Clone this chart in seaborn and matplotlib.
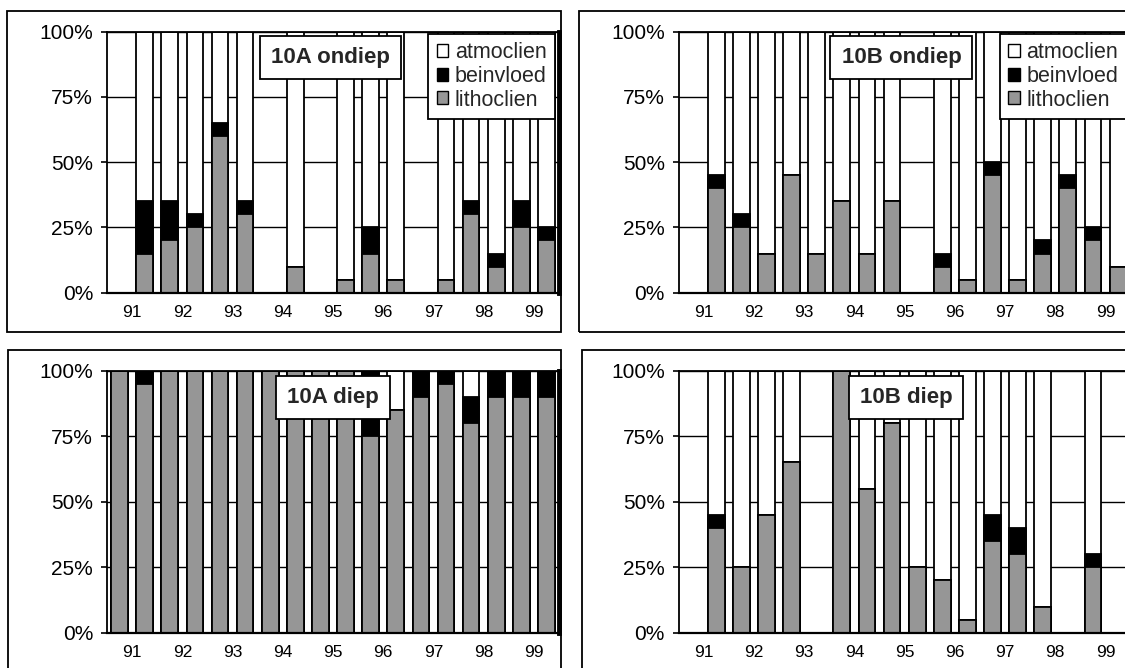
import numpy as np
import pandas as pd
import matplotlib
matplotlib.use("Agg")
import matplotlib.pyplot as plt
import seaborn as sns
from matplotlib.patches import Patch, Rectangle

# ---------------- data ----------------
years = ["91", "92", "93", "94", "95", "96", "97", "98", "99"]
slots = [f"{y}{h}" for y in years for h in ("a", "b")]   # two samples per year
series_names = ["atmoclien", "beinvloed", "lithoclien"]
series_colors = ["#ffffff", "#000000", "#969696"]

a_ondiep_litho = [0, 15, 20, 25, 60, 30, 0, 10, 0, 5, 15, 5, 0, 5, 30, 10, 25, 20]
a_ondiep_bein  = [0, 20, 15, 5, 5, 5, 0, 0, 0, 0, 10, 0, 0, 0, 5, 5, 10, 5]
a_ondiep_atmo  = [0, 65, 65, 70, 35, 65, 0, 90, 0, 95, 75, 95, 0, 95, 65, 85, 65, 75]

b_ondiep_litho = [0, 40, 25, 15, 45, 15, 35, 15, 35, 0, 10, 5, 45, 5, 15, 40, 20, 10]
b_ondiep_bein  = [0, 5, 5, 0, 0, 0, 0, 0, 0, 0, 5, 0, 5, 0, 5, 5, 5, 0]
b_ondiep_atmo  = [0, 55, 70, 85, 55, 85, 65, 85, 65, 0, 85, 95, 50, 95, 80, 55, 75, 90]

a_diep_litho = [100, 95, 100, 100, 100, 100, 100, 100, 100, 100, 75, 85, 90, 95, 80, 90, 90, 90]
a_diep_bein  = [0, 5, 0, 0, 0, 0, 0, 0, 0, 0, 25, 0, 10, 5, 10, 10, 10, 10]
a_diep_atmo  = [0, 0, 0, 0, 0, 0, 0, 0, 0, 0, 0, 15, 0, 0, 10, 0, 0, 0]

b_diep_litho = [0, 40, 25, 45, 65, 0, 100, 55, 80, 25, 20, 5, 35, 30, 10, 0, 25, 0]
b_diep_bein  = [0, 5, 0, 0, 0, 0, 0, 0, 0, 0, 0, 0, 10, 10, 0, 0, 5, 0]
b_diep_atmo  = [0, 55, 75, 55, 35, 0, 0, 45, 20, 75, 80, 95, 55, 60, 90, 0, 70, 0]

panel_titles = ["10A ondiep", "10B ondiep", "10A diep", "10B diep"]
y_ticks = [0, 25, 50, 75, 100]
y_ticklabels = ["0%", "25%", "50%", "75%", "100%"]

# ---------------- style ----------------
sns.set_theme(style="white")
plt.rcParams["font.family"] = ["Liberation Sans", "DejaVu Sans"]

W, H = 1125, 668
fig = plt.figure(figsize=(W / 100, H / 100), dpi=100)

def fx(px):
    return px / W

def fy(py):
    return 1 - py / H

# axes rectangles (pixel geometry: left, top(100%), right, bottom(0%))
ax_geom = [
    (107, 31.7, 559, 292.7),
    (678.6, 31.7, 1130.6, 292.7),
    (107, 370.7, 559, 632.7),
    (678.6, 370.7, 1130.6, 632.7),
]
# outer frames (pixel geometry: x0, y0, x1, y1)
frames = [
    (7, 11, 561, 332),
    (579, 11, 1200, 332),
    (8, 350, 561, 720),
    (582, 350, 1200, 720),
]

panels = [
    (a_ondiep_litho, a_ondiep_bein, a_ondiep_atmo),
    (b_ondiep_litho, b_ondiep_bein, b_ondiep_atmo),
    (a_diep_litho, a_diep_bein, a_diep_atmo),
    (b_diep_litho, b_diep_bein, b_diep_atmo),
]
show_legend = [True, True, False, False]
title_pos = [(0.494, 0.901), (0.493, 0.901), (0.50, 0.898), (0.503, 0.898)]

for (x0, y0, x1, y1) in frames:
    fig.add_artist(Rectangle((fx(x0), fy(y1)), fx(x1 - x0), (y1 - y0) / H,
                             transform=fig.transFigure, fill=False,
                             edgecolor="black", linewidth=1.3, zorder=0))

for i, ((l, t, r, b), (litho, bein, atmo)) in enumerate(zip(ax_geom, panels)):
    ax = fig.add_axes([fx(l), fy(b), fx(r - l), (b - t) / H])
    df = pd.DataFrame({"slot": slots, "litho": litho, "bein": bein, "atmo": atmo})
    df["mid"] = df["litho"] + df["bein"]
    df["total"] = df["mid"] + df["atmo"]
    for col, colr in [("total", series_colors[0]), ("mid", series_colors[1]),
                      ("litho", series_colors[2])]:
        sns.barplot(data=df, x="slot", y=col, order=slots, color=colr,
                    saturation=1, edgecolor="black", linewidth=1.3, width=0.667,
                    errorbar=None, ax=ax)
    ax.set_xlim(-0.5, 17.5)
    ax.set_ylim(0, 100)
    ax.set_yticks(y_ticks)
    ax.set_yticklabels(y_ticklabels, fontsize=15)
    ax.set_xticks(np.arange(0.5, 18, 2))
    ax.set_xticklabels(years, fontsize=12.5)
    ax.set_xlabel("")
    ax.set_ylabel("")
    ax.tick_params(axis="y", length=4, width=1.2, pad=6, colors="black", left=True)
    ax.tick_params(axis="x", length=0, pad=9, colors="black")
    ax.yaxis.grid(True, color="black", linewidth=1.0)
    ax.xaxis.grid(False)
    ax.set_axisbelow(True)
    for s in ["left", "bottom", "top"]:
        ax.spines[s].set_visible(True)
        ax.spines[s].set_color("black")
    ax.spines["left"].set_linewidth(1.3)
    ax.spines["bottom"].set_linewidth(1.6)
    ax.spines["top"].set_linewidth(1.3)
    ax.spines["right"].set_color("black")
    ax.spines["right"].set_linewidth(3.5)
    ax.patch.set_alpha(0)

    tx, ty = title_pos[i]
    ax.text(tx, ty, panel_titles[i], transform=ax.transAxes, fontsize=16,
            fontweight="bold", ha="center", va="center", zorder=10,
            bbox=dict(boxstyle="square,pad=0.5", facecolor="white",
                      edgecolor="black", linewidth=1.3))

    if show_legend[i]:
        handles = [Patch(facecolor=c, edgecolor="black", linewidth=1.0)
                   for c in series_colors]
        leg = ax.legend(handles, series_names, loc="upper left",
                        bbox_to_anchor=(0.71, 0.992), fontsize=15.5,
                        frameon=True, fancybox=False, framealpha=1,
                        edgecolor="black", borderpad=0.4, handlelength=0.55,
                        handleheight=0.55, handletextpad=0.3, labelspacing=0.12,
                        borderaxespad=0)
        leg.get_frame().set_linewidth(1.3)
        leg.set_zorder(10)

fig.savefig("out.png", dpi=100)
